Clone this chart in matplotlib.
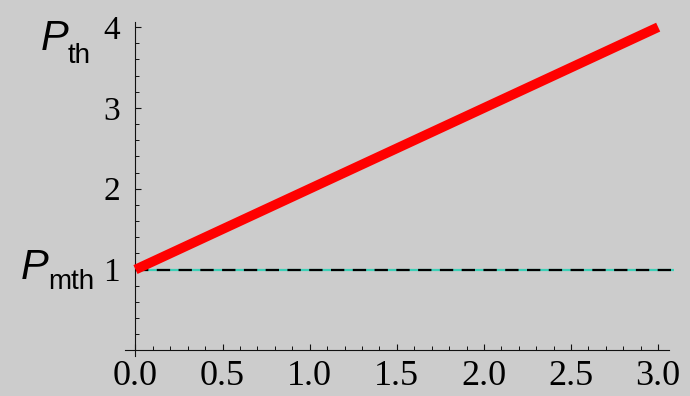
import matplotlib
matplotlib.use("Agg")
import matplotlib.pyplot as plt
from matplotlib.ticker import MultipleLocator, FormatStrFormatter

# Threshold power versus parameter
x_vals = [0.0, 3.0]
p_th = [1.0, 4.0]
p_mth = 1.0
ref_x_end = 3.09

x_major = [0.0, 0.5, 1.0, 1.5, 2.0, 2.5, 3.0]
y_major = [1, 2, 3, 4]

BG = "#cccccc"

fig = plt.figure(figsize=(6.9, 3.96), dpi=100, facecolor=BG)
ax = fig.add_axes([0.1812, 0.101, 0.7954, 0.8427], facecolor=BG)

ax.set_xlim(-0.06, 3.09)
ax.set_ylim(-0.07, 4.06)

# reference level: teal line under black dashes
ax.hlines(p_mth, 0, ref_x_end, colors="#3fd0b8", linewidth=1.6, zorder=2)
ax.hlines(p_mth, 0, ref_x_end, colors="black", linewidth=1.6,
          linestyles=(0, (6.0, 3.8)), zorder=3)

ax.plot(x_vals, p_th, color="#ff0000", linewidth=7.0,
        solid_capstyle="butt", zorder=4)

for side in ("top", "right"):
    ax.spines[side].set_visible(False)
ax.spines["left"].set_position(("data", 0))
ax.spines["bottom"].set_position(("data", 0))
ax.spines["left"].set_bounds(-0.07, 4.06)
ax.spines["bottom"].set_bounds(-0.06, 3.06)
for side in ("left", "bottom"):
    ax.spines[side].set_linewidth(0.8)
    ax.spines[side].set_color("#111111")

ax.set_xticks(x_major)
ax.xaxis.set_major_formatter(FormatStrFormatter("%.1f"))
ax.xaxis.set_minor_locator(MultipleLocator(0.1))
ax.set_yticks(y_major)
ax.yaxis.set_minor_locator(MultipleLocator(0.2))

ax.tick_params(axis="both", which="both", direction="in", color="#111111")
ax.tick_params(axis="both", which="major", length=4.3, width=0.8)
ax.tick_params(axis="both", which="minor", length=2.9, width=0.7)
ax.tick_params(axis="x", which="major", pad=7, labelsize=26)
ax.tick_params(axis="y", which="major", pad=11, labelsize=24)
for lab in ax.get_xticklabels() + ax.get_yticklabels():
    lab.set_fontfamily("Liberation Serif")

W, H = 690, 396
fig.text(41 / W, 1 - 50 / H, "P", fontsize=30, fontstyle="italic",
         family="Liberation Sans", ha="left", va="baseline")
fig.text(68 / W, 1 - 63 / H, "th", fontsize=20, family="Liberation Sans",
         ha="left", va="baseline")
fig.text(21 / W, 1 - 279 / H, "P", fontsize=30, fontstyle="italic",
         family="Liberation Sans", ha="left", va="baseline")
fig.text(48 / W, 1 - 289 / H, "mth", fontsize=20, family="Liberation Sans",
         ha="left", va="baseline")

fig.savefig("out.png", dpi=100, facecolor=BG)
